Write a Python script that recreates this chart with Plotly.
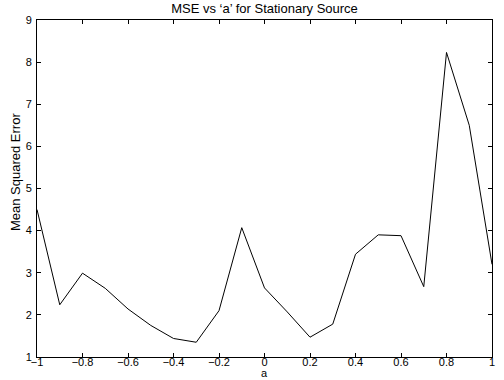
import plotly.graph_objects as go

a_vals = [-1.0, -0.9, -0.8, -0.7, -0.6, -0.5, -0.4, -0.3, -0.2, -0.1, 0.0,
          0.1, 0.2, 0.3, 0.4, 0.5, 0.6, 0.7, 0.8, 0.9, 1.0]
mse = [4.5, 2.24, 2.99, 2.63, 2.14, 1.75, 1.44, 1.35, 2.1, 4.07, 2.64,
       2.07, 1.47, 1.78, 3.44, 3.9, 3.88, 2.67, 8.23, 6.5, 3.2]

x_ticks = [-1, -0.8, -0.6, -0.4, -0.2, 0, 0.2, 0.4, 0.6, 0.8, 1]
y_ticks = [1, 2, 3, 4, 5, 6, 7, 8, 9]

font_family = "Liberation Sans, Arial, sans-serif"

fig = go.Figure()
fig.add_trace(go.Scatter(x=a_vals, y=mse, mode="lines",
                         line=dict(color="black", width=1)))

axis_common = dict(showgrid=False, zeroline=False, showline=True,
                   linecolor="black", linewidth=1, mirror="ticks",
                   ticks="inside", ticklen=4, tickcolor="black",
                   automargin=False)

fig.update_layout(
    width=504, height=380,
    margin=dict(l=37, r=12, t=20, b=23, autoexpand=False),
    paper_bgcolor="white", plot_bgcolor="white",
    showlegend=False,
    title=dict(text="MSE vs \u2018a\u2019 for Stationary Source",
               x=0.5, xref="paper", xanchor="center", y=0.99, yanchor="top",
               font=dict(family=font_family, size=13, color="black")),
    xaxis=dict(range=[-1, 1], tickvals=x_ticks, ticklabelstandoff=-5,
               tickfont=dict(family=font_family, size=11, color="black"),
               **axis_common),
    yaxis=dict(range=[1, 9], tickvals=y_ticks, ticklabelstandoff=2,
               tickfont=dict(family=font_family, size=11, color="black"),
               **axis_common),
    annotations=[
        dict(text="a", xref="paper", yref="paper", x=0.5, y=-0.0685,
             xanchor="center", yanchor="bottom", showarrow=False, borderpad=0,
             font=dict(family=font_family, size=11, color="black")),
        dict(text="Mean Squared Error", xref="paper", yref="paper",
             x=-0.046, y=0.549, xanchor="center", yanchor="middle",
             textangle=-90, showarrow=False,
             font=dict(family=font_family, size=13, color="black")),
    ],
)

fig.write_html("out.html")
